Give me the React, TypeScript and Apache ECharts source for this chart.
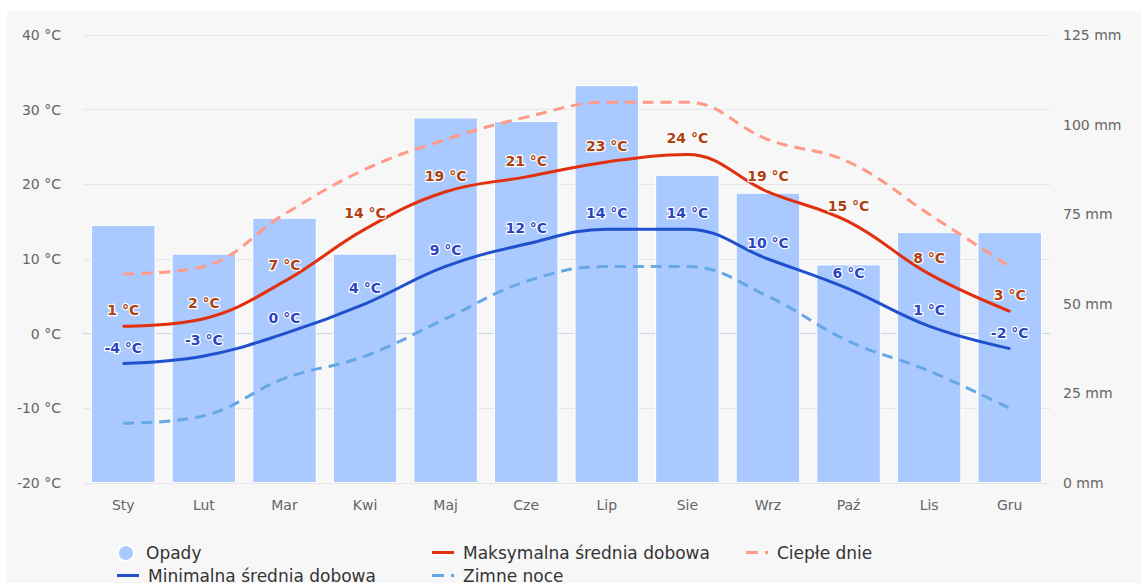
import React, { useEffect, useRef } from "react";
import * as echarts from "echarts";

const months = ["Sty", "Lut", "Mar", "Kwi", "Maj", "Cze", "Lip", "Sie", "Wrz", "Paź", "Lis", "Gru"];
const precipitation = [72, 64, 74, 64, 102, 101, 111, 86, 81, 61, 70, 70];
const maxTemp = [1, 2, 7, 14, 19, 21, 23, 24, 19, 15, 8, 3];
const minTemp = [-4, -3, 0, 4, 9, 12, 14, 14, 10, 6, 1, -2];
const warmDays = [8, 9, 16, 22, 26, 29, 31, 31, 26, 23, 16, 9];
const coldNights = [-12, -11, -6, -3, 2, 7, 9, 9, 5, -1, -5, -10];

const FONT = "DejaVu Sans";
const SOLID_ICON = "path://M0,0 H22 V3 H0 Z";
const DASH_ICON = "path://M0,0 H12 V3 H0 Z M19,0 H22 V3 H19 Z";

export default function App() {
  const ref = useRef<HTMLDivElement>(null);
  useEffect(() => {
    if (!ref.current) return;
    const chart = echarts.init(ref.current, null, { renderer: "svg" });
    const legendCommon = {
      orient: "horizontal" as const,
      itemWidth: 22,
      itemHeight: 3,
      padding: 0,
      textStyle: { fontFamily: FONT, fontSize: 17, color: "#333", padding: [0, 0, 0, 4] },
      selectedMode: false,
    };
    const row1 = 533;
    const row2 = 556;
    const labelCommon = {
      show: true,
      position: "top" as const,
      distance: 8,
      formatter: "{c} °C",
      fontSize: 14,
      fontWeight: "bold" as const,
      fontFamily: FONT,
      textBorderColor: "#ffffff",
      textBorderWidth: 2.5,
    };
    chart.setOption({
      animation: false,
      backgroundColor: "#f7f7f7",
      textStyle: { fontFamily: FONT },
      grid: { left: 76, right: 91, top: 24, bottom: 100 },
      legend: [
        { ...legendCommon, itemHeight: 16, left: 110, top: row1, data: [{ name: "Opady", icon: "circle" }] },
        { ...legendCommon, left: 110, top: row2, data: [{ name: "Minimalna średnia dobowa", icon: SOLID_ICON }] },
        { ...legendCommon, left: 425, top: row1, data: [{ name: "Maksymalna średnia dobowa", icon: SOLID_ICON }] },
        { ...legendCommon, left: 425, top: row2, data: [{ name: "Zimne noce", icon: DASH_ICON }] },
        { ...legendCommon, left: 739, top: row1, data: [{ name: "Ciepłe dnie", icon: DASH_ICON }] },
      ],
      xAxis: {
        type: "category",
        data: months,
        axisLine: { lineStyle: { color: "#ccd6eb" } },
        axisTick: { show: false },
        axisLabel: { color: "#666", fontSize: 14, margin: 15, fontFamily: FONT },
      },
      yAxis: [
        {
          type: "value",
          min: -20,
          max: 40,
          interval: 10,
          axisLabel: { formatter: "{value} °C", color: "#666", fontSize: 14, margin: 22, fontFamily: FONT },
          splitLine: { lineStyle: { color: "#e6e6e6" } },
          axisLine: { show: false },
          axisTick: { show: false },
        },
        {
          type: "value",
          min: 0,
          max: 125,
          interval: 25,
          position: "right",
          axisLabel: { formatter: "{value} mm", color: "#666", fontSize: 14, margin: 13, fontFamily: FONT },
          splitLine: { show: false },
          axisLine: { show: false },
          axisTick: { show: false },
        },
      ],
      series: [
        {
          name: "Opady",
          type: "bar",
          yAxisIndex: 1,
          data: precipitation,
          barCategoryGap: "20%",
          itemStyle: { color: "#a9c9ff", borderColor: "#ffffff", borderWidth: 1 },
          z: 1,
        },
        {
          name: "Maksymalna średnia dobowa",
          type: "line",
          data: maxTemp,
          smooth: 0.4,
          symbol: "circle",
          symbolSize: 2,
          showSymbol: true,
          lineStyle: { color: "#e0300e", width: 3 },
          itemStyle: { color: "#e0300e" },
          label: { ...labelCommon, color: "#b0400f" },
          z: 4,
        },
        {
          name: "Minimalna średnia dobowa",
          type: "line",
          data: minTemp,
          smooth: 0.4,
          symbol: "circle",
          symbolSize: 2,
          showSymbol: true,
          lineStyle: { color: "#2050cc", width: 3 },
          itemStyle: { color: "#2050cc" },
          label: { ...labelCommon, color: "#2a44c4" },
          z: 4,
        },
        {
          name: "Zimne noce",
          type: "line",
          data: coldNights,
          smooth: 0.4,
          symbol: "none",
          lineStyle: { color: "#66a8e6", width: 3, type: [11, 7] },
          itemStyle: { color: "#66a8e6" },
          z: 3,
        },
        {
          name: "Ciepłe dnie",
          type: "line",
          data: warmDays,
          smooth: 0.4,
          symbol: "none",
          lineStyle: { color: "#ff9a88", width: 3, type: [11, 7] },
          itemStyle: { color: "#ff9a88" },
          z: 3,
        },
      ],
    });
    return () => chart.dispose();
  }, []);
  return (
    <div style={{ position: "fixed", left: 0, top: 0, width: 1141, height: 583, background: "#fff" }}>
      <div ref={ref} style={{ position: "absolute", left: 7, top: 11, width: 1134, height: 572 }} />
    </div>
  );
}
